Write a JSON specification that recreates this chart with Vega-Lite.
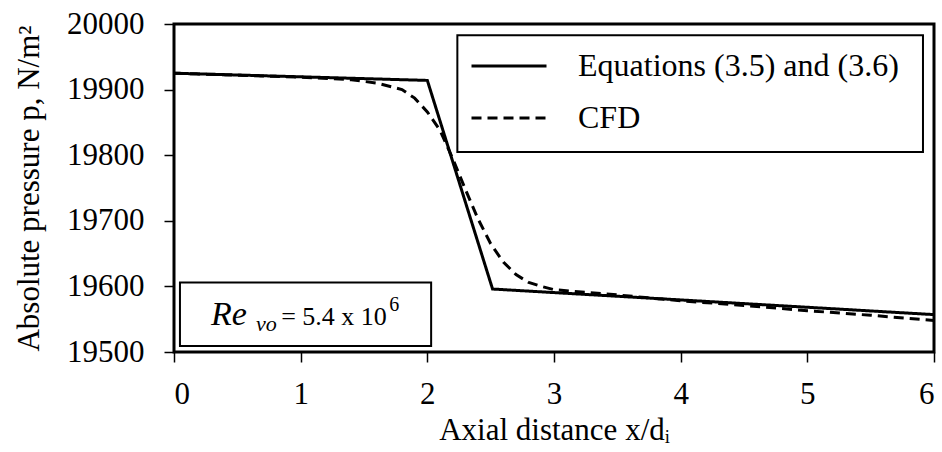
{
  "$schema": "https://vega.github.io/schema/vega-lite/v6.json",
  "width": 760,
  "height": 328,
  "autosize": {"type": "none"},
  "padding": {"left": 174, "top": 24, "right": 8, "bottom": 100},
  "background": "white",
  "config": {
    "font": "Liberation Serif",
    "view": {"stroke": "black", "strokeWidth": 3},
    "axis": {
      "labelFont": "Liberation Serif",
      "labelFontSize": 31,
      "labelColor": "black",
      "titleFont": "Liberation Serif",
      "titleFontSize": 31,
      "titleFontWeight": "normal",
      "titleColor": "black",
      "domain": false,
      "gridColor": "#a0a0a0",
      "gridWidth": 1.5,
      "tickColor": "black",
      "tickWidth": 1.5,
      "tickSize": 10
    },
    "legend": {
      "orient": "none",
      "legendX": 296,
      "legendY": 25.5,
      "padding": 0,
      "symbolType": "M-2.5,0H2.5",
      "symbolSize": 900,
      "symbolOffset": 22.5,
      "symbolStrokeWidth": 3,
      "symbolStrokeColor": "black",
      "labelFont": "Liberation Serif",
      "labelFontSize": 32,
      "labelColor": "black",
      "labelOffset": 52.5,
      "labelLimit": 0,
      "rowPadding": 19
    }
  },
  "data": {
    "values": [
      {"x": 0, "p": 19925, "series": "Equations (3.5) and (3.6)"},
      {"x": 2, "p": 19914, "series": "Equations (3.5) and (3.6)"},
      {"x": 2.515, "p": 19596, "series": "Equations (3.5) and (3.6)"},
      {"x": 6, "p": 19557, "series": "Equations (3.5) and (3.6)"},
      {"x": 0, "p": 19925, "series": "CFD"},
      {"x": 0.5, "p": 19922, "series": "CFD"},
      {"x": 1.0, "p": 19919, "series": "CFD"},
      {"x": 1.4, "p": 19915, "series": "CFD"},
      {"x": 1.6, "p": 19910, "series": "CFD"},
      {"x": 1.8, "p": 19900, "series": "CFD"},
      {"x": 1.9, "p": 19887, "series": "CFD"},
      {"x": 2.0, "p": 19866, "series": "CFD"},
      {"x": 2.1, "p": 19838, "series": "CFD"},
      {"x": 2.2, "p": 19795, "series": "CFD"},
      {"x": 2.3, "p": 19748, "series": "CFD"},
      {"x": 2.4, "p": 19703, "series": "CFD"},
      {"x": 2.5, "p": 19665, "series": "CFD"},
      {"x": 2.6, "p": 19637, "series": "CFD"},
      {"x": 2.7, "p": 19618, "series": "CFD"},
      {"x": 2.8, "p": 19606, "series": "CFD"},
      {"x": 2.9, "p": 19600, "series": "CFD"},
      {"x": 3.0, "p": 19595, "series": "CFD"},
      {"x": 3.5, "p": 19587, "series": "CFD"},
      {"x": 4.0, "p": 19578, "series": "CFD"},
      {"x": 4.5, "p": 19571, "series": "CFD"},
      {"x": 5.0, "p": 19563, "series": "CFD"},
      {"x": 5.5, "p": 19556, "series": "CFD"},
      {"x": 6.0, "p": 19548, "series": "CFD"}
    ]
  },
  "layer": [
    {
      "data": {"values": [{}]},
      "mark": {"type": "rect", "fill": "white", "stroke": "black", "strokeWidth": 2},
      "encoding": {
        "x": {"datum": 2.237, "type": "quantitative"},
        "x2": {"datum": 5.913},
        "y": {"datum": 19805, "type": "quantitative"},
        "y2": {"datum": 19983}
      }
    },
    {
      "mark": {"type": "line", "color": "black", "strokeWidth": 3},
      "encoding": {
        "x": {
          "field": "x",
          "type": "quantitative",
          "scale": {"domain": [0, 6], "nice": false},
          "axis": {"values": [0, 1, 2, 3, 4, 5, 6], "title": "Axial distance x/dᵢ", "labelPadding": 17, "titlePadding": 6, "format": "d"}
        },
        "y": {
          "field": "p",
          "type": "quantitative",
          "scale": {"domain": [19500, 20000], "nice": false, "zero": false},
          "axis": {"values": [19500, 19600, 19700, 19800, 19900, 20000], "title": "Absolute pressure p, N/m²", "labelPadding": 20, "titlePadding": 21, "format": "d"}
        },
        "strokeDash": {
          "field": "series",
          "type": "nominal",
          "scale": {"domain": ["Equations (3.5) and (3.6)", "CFD"], "range": [[1, 0], [10, 6]]},
          "legend": {"title": null}
        }
      }
    },
    {
      "data": {"values": [{}]},
      "mark": {"type": "rect", "fill": "white", "stroke": "black", "strokeWidth": 2},
      "encoding": {
        "x": {"datum": 0.047, "type": "quantitative"},
        "x2": {"datum": 2.03},
        "y": {"datum": 19509, "type": "quantitative"},
        "y2": {"datum": 19606}
      }
    },
    {
      "data": {"values": [{}]},
      "mark": {"type": "text", "text": "Re", "font": "Liberation Serif", "fontStyle": "italic", "fontSize": 34, "align": "left", "baseline": "alphabetic", "color": "black"},
      "encoding": {
        "x": {"datum": 0.2925, "type": "quantitative"},
        "y": {"datum": 19541, "type": "quantitative"}
      }
    },
    {
      "data": {"values": [{}]},
      "mark": {"type": "text", "text": "vo", "font": "Liberation Serif", "fontStyle": "italic", "fontSize": 22, "align": "left", "baseline": "alphabetic", "color": "black"},
      "encoding": {
        "x": {"datum": 0.648, "type": "quantitative"},
        "y": {"datum": 19532, "type": "quantitative"}
      }
    },
    {
      "data": {"values": [{}]},
      "mark": {"type": "text", "text": "= 5.4 x 10", "font": "Liberation Serif", "fontSize": 26, "align": "left", "baseline": "alphabetic", "color": "black"},
      "encoding": {
        "x": {"datum": 0.846, "type": "quantitative"},
        "y": {"datum": 19541, "type": "quantitative"}
      }
    },
    {
      "data": {"values": [{}]},
      "mark": {"type": "text", "text": "6", "font": "Liberation Serif", "fontSize": 20, "align": "left", "baseline": "alphabetic", "color": "black"},
      "encoding": {
        "x": {"datum": 1.70, "type": "quantitative"},
        "y": {"datum": 19562, "type": "quantitative"}
      }
    }
  ]
}
